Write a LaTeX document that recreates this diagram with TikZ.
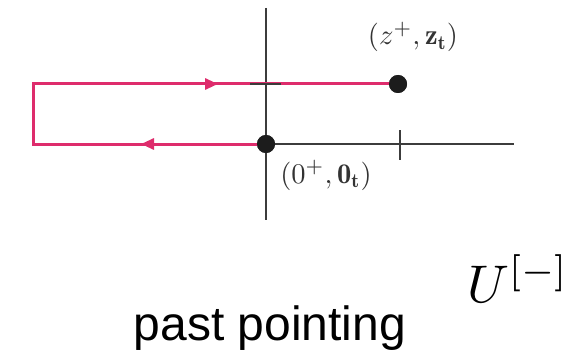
\documentclass[tikz,border=0pt]{standalone}
\usepackage{fontspec}
\setsansfont{Liberation Sans}
\usetikzlibrary{arrows.meta,decorations.markings}
\definecolor{pathpink}{RGB}{222,44,108}
\definecolor{axisgray}{RGB}{60,60,60}
\definecolor{dotblack}{RGB}{28,28,28}
\tikzset{
  axisline/.style={draw=axisgray,line width=1.4pt},
  ticks/.style={draw=axisgray,line width=1.6pt},
  contour/.style={draw=pathpink,line width=3pt,line join=miter,
    postaction={decorate},
    decoration={markings,
      mark=at position 125pt with {\arrow{Triangle[length=13pt,width=11pt]}},
      mark=at position 478pt with {\arrow{Triangle[length=13pt,width=11pt]}}}},
  dotnode/.style={circle,fill=dotblack,inner sep=0pt,minimum size=18pt},
  mathlabel/.style={scale=2.85,inner sep=0pt,text=black!80}
}
\begin{document}
\begin{tikzpicture}[x=1pt,y=-1pt]
\useasboundingbox (0,0) rectangle (583,350);
% axes
\coordinate (vtop) at (266,8);
\coordinate (vbot) at (266,220);
\coordinate (hend) at (514,144);
\coordinate (c1) at (33,144);
\coordinate (c2) at (33,84);
\coordinate (vt1) at (250,84);
\coordinate (vt2) at (281,84);
\coordinate (ht1) at (400,130);
\coordinate (ht2) at (400,160);
\node[dotnode] (o) at (266,144) {};
\node[dotnode] (z) at (398,84) {};
\draw[axisline] (vtop) -- (vbot);
\draw[axisline] (o.center) -- (hend);
\draw[ticks] (ht1) -- (ht2);
% contour
\draw[contour] (o.center) -- (c1) -- (c2) -- (z.center);
\draw[ticks] (vt1) -- (vt2);
\node[dotnode] at (o) {};
\node[dotnode] at (z) {};
% labels
\node[mathlabel,anchor=base] (zl) at (413,45) {$(z^{+},\mathbf{z_t})$};
\node[mathlabel,anchor=base] (ol) at (326,183) {$(0^{+},\mathbf{0_t})$};
\node[scale=5.3,inner sep=0pt,anchor=base] (u) at (518,302) {$U^{[-]}$};
\node[font=\sffamily\fontsize{48}{56}\selectfont,inner sep=0pt,anchor=base] (pp) at (270,340) {past pointing};
\end{tikzpicture}
\end{document}
